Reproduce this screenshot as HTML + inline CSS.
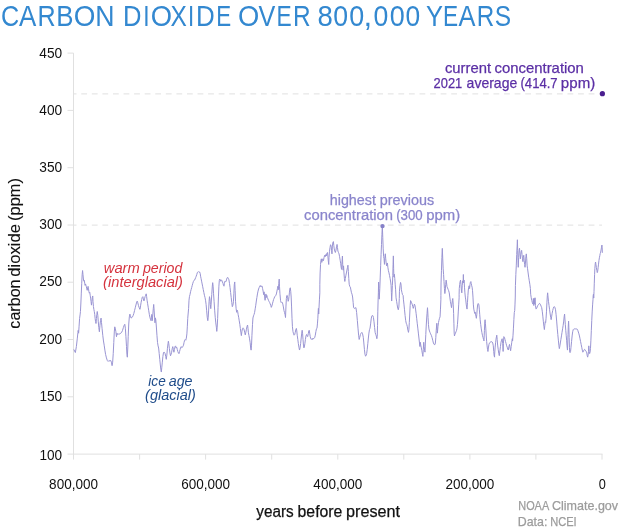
<!DOCTYPE html>
<html><head><meta charset="utf-8"><title>Carbon dioxide over 800,000 years</title>
<style>
html,body{margin:0;padding:0;background:#fff;}
body{width:620px;height:531px;overflow:hidden;font-family:"Liberation Sans",sans-serif;}
svg{display:block;position:absolute;left:0;top:0;will-change:transform;}
text{font-family:"Liberation Sans",sans-serif;}
</style></head><body>
<svg width="620" height="531" viewBox="0 0 620 531">
<rect width="620" height="531" fill="#ffffff"/>
<line x1="73.5" y1="93.9" x2="602.0" y2="93.9" stroke="#e0e0e0" stroke-width="1" stroke-dasharray="5.8 4.77" stroke-dashoffset="2.8"/>
<line x1="73.5" y1="225.1" x2="602.0" y2="225.1" stroke="#e0e0e0" stroke-width="1" stroke-dasharray="5.8 4.77" stroke-dashoffset="2.8"/>
<path d="M73.5,53.1 V459.6 M73.5,454.1 H602.5" fill="none" stroke="#e0e0e0" stroke-width="1"/>
<line x1="67.5" y1="454.1" x2="73.5" y2="454.1" stroke="#e0e0e0" stroke-width="1"/>
<text x="39.42" y="459.5" font-size="14.4" fill="#111" textLength="22.71" lengthAdjust="spacingAndGlyphs">100</text>
<line x1="67.5" y1="396.8" x2="73.5" y2="396.8" stroke="#e0e0e0" stroke-width="1"/>
<text x="39.42" y="401.1" font-size="14.4" fill="#111" textLength="22.71" lengthAdjust="spacingAndGlyphs">150</text>
<line x1="67.5" y1="339.5" x2="73.5" y2="339.5" stroke="#e0e0e0" stroke-width="1"/>
<text x="39.36" y="343.8" font-size="14.4" fill="#111" textLength="22.88" lengthAdjust="spacingAndGlyphs">200</text>
<line x1="67.5" y1="282.2" x2="73.5" y2="282.2" stroke="#e0e0e0" stroke-width="1"/>
<text x="39.36" y="286.1" font-size="14.4" fill="#111" textLength="22.88" lengthAdjust="spacingAndGlyphs">250</text>
<line x1="67.5" y1="225.0" x2="73.5" y2="225.0" stroke="#e0e0e0" stroke-width="1"/>
<text x="39.36" y="229.3" font-size="14.4" fill="#111" textLength="22.88" lengthAdjust="spacingAndGlyphs">300</text>
<line x1="67.5" y1="167.7" x2="73.5" y2="167.7" stroke="#e0e0e0" stroke-width="1"/>
<text x="39.36" y="172.0" font-size="14.4" fill="#111" textLength="22.88" lengthAdjust="spacingAndGlyphs">350</text>
<line x1="67.5" y1="110.4" x2="73.5" y2="110.4" stroke="#e0e0e0" stroke-width="1"/>
<text x="39.36" y="114.7" font-size="14.4" fill="#111" textLength="22.88" lengthAdjust="spacingAndGlyphs">400</text>
<line x1="67.5" y1="53.1" x2="73.5" y2="53.1" stroke="#e0e0e0" stroke-width="1"/>
<text x="39.36" y="57.8" font-size="14.4" fill="#111" textLength="22.88" lengthAdjust="spacingAndGlyphs">450</text>
<line x1="139.6" y1="454.1" x2="139.6" y2="459.6" stroke="#e0e0e0" stroke-width="1"/>
<line x1="205.6" y1="454.1" x2="205.6" y2="459.6" stroke="#e0e0e0" stroke-width="1"/>
<line x1="271.7" y1="454.1" x2="271.7" y2="459.6" stroke="#e0e0e0" stroke-width="1"/>
<line x1="337.8" y1="454.1" x2="337.8" y2="459.6" stroke="#e0e0e0" stroke-width="1"/>
<line x1="403.8" y1="454.1" x2="403.8" y2="459.6" stroke="#e0e0e0" stroke-width="1"/>
<line x1="469.9" y1="454.1" x2="469.9" y2="459.6" stroke="#e0e0e0" stroke-width="1"/>
<line x1="535.9" y1="454.1" x2="535.9" y2="459.6" stroke="#e0e0e0" stroke-width="1"/>
<line x1="602.0" y1="454.1" x2="602.0" y2="459.6" stroke="#e0e0e0" stroke-width="1"/>
<text x="49.12" y="489.2" font-size="14.4" fill="#111" textLength="48.9" lengthAdjust="spacingAndGlyphs">800,000</text>
<text x="181.25" y="489.2" font-size="14.4" fill="#111" textLength="48.9" lengthAdjust="spacingAndGlyphs">600,000</text>
<text x="313.37" y="489.2" font-size="14.4" fill="#111" textLength="48.9" lengthAdjust="spacingAndGlyphs">400,000</text>
<text x="445.50" y="489.2" font-size="14.4" fill="#111" textLength="48.9" lengthAdjust="spacingAndGlyphs">200,000</text>
<text x="598.71" y="489.2" font-size="14.4" fill="#111" textLength="7.09" lengthAdjust="spacingAndGlyphs">0</text>
<path d="M73.81,349.44 L75.37,352.54 L76.36,346.61 L77.34,338.14 L77.91,332.49 L78.19,330.37 L78.62,333.19 L79.04,326.84 L79.6,318.36 L80.17,314.12 L80.45,311.5 L80.88,303.02 L81.3,293.14 L81.72,283.25 L82.15,274.77 L82.57,270.54 L82.99,274.77 L83.42,279.01 L83.84,281.13 L84.27,280.42 L84.69,283.25 L85.11,285.37 L85.54,283.95 L85.96,285.37 L86.38,286.78 L86.81,288.9 L87.23,290.31 L87.66,287.49 L88.08,286.36 L88.5,288.9 L88.93,291.72 L89.35,293.14 L89.77,292.43 L90.2,295.25 L90.62,298.08 L91.05,301.61 L91.47,305.14 L91.89,301.61 L92.32,297.37 L92.74,295.96 L93.02,301.61 L93.45,306.55 L93.87,309.38 L94.29,311.5 L94.72,314.32 L95.14,318.56 L95.56,321.38 L95.99,323.5 L96.41,318.56 L96.84,314.32 L97.26,311.5 L97.82,315.54 L98.25,321.19 L98.81,327.54 L99.38,331.78 L99.94,325.42 L100.51,320.48 L101.07,318.08 L101.5,322.6 L102.06,328.25 L102.77,335.31 L103.47,340.96 L104.18,345.2 L104.89,350.14 L105.59,354.38 L106.44,357.91 L107.29,360.45 L108.14,361.44 L108.98,360.45 L109.83,361.02 L110.68,360.45 L111.38,362.15 L112.09,365.68 L112.66,362.15 L113.22,353.67 L113.79,342.37 L114.35,331.07 L114.77,326.84 L115.34,328.95 L115.9,331.78 L116.47,336.72 L117.03,333.19 L117.74,334.6 L118.45,333.9 L119.15,334.18 L120.0,333.62 L120.85,333.19 L121.69,332.2 L122.54,330.37 L123.39,327.54 L124.24,325.14 L124.8,324.29 L125.37,328.25 L125.93,336.72 L126.5,346.61 L126.92,354.38 L127.34,357.2 L127.77,348.02 L128.19,336.72 L128.76,324.01 L129.32,316.95 L129.89,314.12 L130.45,315.54 L131.02,318.08 L131.72,317.66 L132.43,316.95 L133.14,315.54 L133.84,313.42 L134.55,310.59 L135.25,307.77 L135.96,304.94 L136.67,302.12 L137.23,301.13 L137.8,302.82 L138.5,305.65 L139.21,307.77 L139.77,309.18 L140.0,309.38 L140.56,305.85 L141.13,302.32 L141.69,299.49 L142.26,297.37 L142.82,296.67 L143.39,298.79 L143.95,300.9 L144.52,298.79 L145.08,296.67 L145.65,295.25 L146.21,293.84 L146.64,296.67 L147.06,300.2 L147.63,303.73 L148.19,307.26 L148.76,310.79 L149.32,314.32 L149.89,317.15 L150.45,319.27 L151.02,320.68 L151.44,317.15 L151.86,314.32 L152.29,320.68 L152.85,314.32 L153.28,308.67 L153.7,304.44 L154.12,310.08 L154.55,317.15 L154.97,322.8 L155.4,317.85 L155.82,319.97 L156.38,327.03 L156.95,335.31 L157.51,342.37 L158.08,345.9 L158.64,348.02 L159.21,353.67 L159.77,359.32 L160.34,364.97 L160.9,369.92 L161.33,372.03 L161.75,367.8 L162.32,362.15 L162.88,356.5 L163.45,352.97 L164.01,351.98 L164.58,352.54 L165.14,353.67 L165.71,356.5 L166.27,359.32 L166.84,355.08 L167.4,348.73 L167.97,343.79 L168.39,341.24 L168.81,343.79 L169.38,348.73 L169.94,352.97 L170.51,355.79 L171.07,354.38 L171.64,352.26 L172.2,348.73 L172.77,346.61 L173.33,349.44 L173.9,352.26 L174.46,349.44 L175.03,346.61 L175.59,345.9 L176.16,348.02 L176.72,347.32 L177.29,349.44 L177.85,351.55 L178.42,352.97 L178.98,353.67 L179.55,351.55 L180.11,349.44 L180.68,347.32 L181.24,346.61 L181.81,347.74 L182.37,347.32 L182.94,346.33 L183.5,345.2 L184.07,342.37 L184.63,340.25 L185.2,339.55 L185.76,340.25 L186.33,338.14 L186.89,333.9 L187.32,326.84 L187.74,318.36 L188.59,308.67 L189.01,300.2 L189.44,296.67 L190.0,294.55 L190.56,291.72 L191.13,289.6 L191.69,287.49 L192.26,285.37 L192.82,283.25 L193.39,281.55 L193.95,280.42 L194.52,280.14 L195.08,279.01 L195.65,277.6 L196.21,276.19 L196.78,274.49 L197.34,272.66 L197.91,271.95 L198.47,271.67 L199.04,272.23 L199.6,271.95 L200.17,273.36 L200.59,276.19 L201.02,278.31 L201.58,281.13 L202.15,283.95 L202.71,286.78 L203.28,289.6 L203.84,292.43 L204.41,295.25 L204.97,297.37 L205.54,300.2 L206.1,304.44 L206.67,310.79 L207.23,317.15 L207.8,320.68 L208.22,317.15 L208.64,310.08 L209.07,301.61 L209.49,296.67 L209.92,298.79 L210.34,304.44 L210.76,308.67 L211.19,303.02 L211.75,294.55 L212.32,286.07 L212.68,282.66 L213.11,286.19 L213.53,293.25 L214.1,301.72 L214.66,310.2 L215.23,317.26 L215.79,322.91 L216.36,327.15 L216.78,331.38 L217.2,327.15 L217.63,318.67 L218.05,307.37 L218.47,296.07 L218.9,286.19 L219.32,280.54 L219.75,279.12 L220.17,279.83 L220.73,281.24 L221.3,279.83 L221.86,280.54 L222.43,281.95 L222.99,283.36 L223.56,285.48 L223.98,286.19 L224.41,283.36 L224.97,281.24 L225.54,281.95 L226.1,281.24 L226.67,279.12 L227.23,277.71 L227.8,277.43 L228.36,278.42 L228.93,279.83 L229.49,283.36 L230.06,287.6 L230.62,292.54 L231.19,297.49 L231.75,302.43 L232.32,306.67 L232.88,305.25 L233.45,301.72 L233.87,293.25 L234.29,284.77 L234.72,281.95 L235.14,290.42 L235.56,301.72 L236.13,308.79 L236.69,312.32 L237.26,310.2 L237.68,311.61 L238.11,314.44 L238.67,317.26 L239.24,320.79 L239.8,324.32 L240.37,328.56 L240.93,332.8 L241.36,335.62 L241.92,331.38 L242.49,328.56 L243.05,327.85 L243.62,328.56 L244.18,329.97 L244.75,332.8 L245.31,334.92 L245.88,332.09 L246.44,329.27 L247.01,326.44 L247.57,325.03 L247.99,328.56 L248.42,332.8 L248.98,335.62 L249.55,338.84 L250.11,342.37 L250.68,348.02 L251.1,350.14 L251.53,345.2 L251.95,335.31 L252.51,324.32 L252.94,317.97 L253.5,315.85 L254.07,314.44 L254.63,312.32 L255.2,308.79 L255.76,305.25 L256.33,301.02 L256.89,297.49 L257.46,293.95 L258.02,291.13 L258.59,289.01 L259.15,287.6 L259.72,286.19 L260.28,285.48 L260.85,286.89 L261.41,286.19 L261.98,285.9 L262.54,288.31 L263.11,291.13 L263.67,294.66 L264.1,291.84 L264.52,296.07 L265.08,300.31 L265.51,296.78 L265.93,293.95 L266.36,297.49 L266.78,295.37 L267.34,297.49 L267.91,298.9 L268.47,300.31 L269.04,301.44 L269.6,302.43 L270.17,303.84 L270.73,305.25 L271.3,307.37 L271.86,305.96 L272.43,303.84 L272.99,301.72 L273.56,299.6 L274.12,298.19 L274.69,296.78 L275.25,296.07 L275.82,295.37 L276.38,293.95 L276.95,291.13 L277.51,288.31 L277.94,286.19 L278.36,289.72 L278.79,283.36 L279.21,279.12 L279.49,286.19 L279.92,293.25 L280.0,294.24 L280.56,300.59 L281.13,302.43 L281.69,302.99 L282.26,302.43 L282.82,304.12 L283.39,306.95 L283.95,310.48 L284.52,312.6 L285.08,314.72 L285.51,317.54 L285.93,306.95 L286.36,298.47 L286.78,295.65 L287.2,295.37 L287.63,297.77 L288.19,301.3 L288.62,299.89 L289.04,296.36 L289.46,292.12 L289.89,288.5 L290.31,287.79 L290.73,291.32 L291.16,297.06 L291.58,306.95 L292.01,318.25 L292.43,326.72 L292.99,331.67 L293.56,333.79 L294.12,335.2 L294.69,334.49 L295.25,332.37 L295.82,329.55 L296.38,328.42 L296.81,330.96 L297.23,335.2 L297.8,339.44 L298.36,343.67 L298.93,347.2 L299.49,350.03 L300.06,347.91 L300.62,343.67 L301.19,338.02 L301.75,333.08 L302.18,330.25 L302.6,333.79 L303.02,339.44 L303.45,345.08 L303.87,347.91 L304.29,347.2 L304.86,343.67 L305.42,339.44 L305.99,335.9 L306.55,334.49 L307.12,335.9 L307.68,336.61 L308.25,333.79 L308.81,330.96 L309.24,330.25 L309.66,333.08 L310.23,336.61 L310.79,338.73 L311.36,339.44 L311.92,338.73 L312.49,339.44 L313.05,338.02 L313.62,338.73 L314.18,338.31 L314.75,337.32 L315.31,335.2 L315.88,331.67 L316.44,328.84 L317.01,328.14 L317.43,323.9 L317.85,318.25 L318.14,312.6 L318.42,308.36 L318.7,314.01 L318.98,308.36 L319.41,299.89 L319.83,292.82 L319.83,284.26 L320.11,272.96 L320.54,264.49 L320.96,260.25 L321.38,258.84 L321.81,262.37 L322.23,259.54 L322.66,258.84 L323.08,260.95 L323.5,260.25 L324.07,257.42 L324.63,255.31 L325.2,256.72 L325.76,254.6 L326.33,256.01 L326.89,253.19 L327.46,252.48 L327.88,256.01 L328.31,260.95 L328.73,264.49 L329.01,257.42 L329.44,251.77 L330.0,247.54 L330.56,244.71 L331.13,246.12 L331.55,250.36 L331.98,253.89 L332.4,246.12 L332.82,242.59 L333.39,241.6 L333.81,245.42 L334.24,248.95 L334.8,251.07 L335.37,252.48 L335.93,250.36 L336.5,246.83 L337.06,244.43 L337.49,247.54 L337.91,251.07 L338.47,252.48 L339.04,253.89 L339.6,256.72 L340.17,260.25 L340.73,263.78 L341.16,267.31 L341.58,269.43 L342.01,261.66 L342.43,256.01 L342.71,264.49 L343.14,270.14 L343.56,265.9 L343.98,272.96 L344.41,278.61 L344.83,281.44 L345.25,278.61 L345.82,275.79 L346.38,272.96 L346.95,270.14 L347.51,267.31 L347.94,265.19 L348.36,271.55 L348.79,278.61 L349.21,284.26 L349.77,286.38 L350.34,287.08 L350.9,289.91 L351.47,292.73 L352.03,294.15 L352.6,296.97 L353.16,302.62 L353.59,307.66 L354.15,308.36 L355.0,308.08 L355.93,307.66 L356.64,312.6 L357.34,320.37 L358.05,328.84 L358.62,335.2 L359.18,339.44 L359.75,337.32 L360.45,334.49 L361.16,333.08 L361.86,332.37 L362.57,333.79 L363.28,337.32 L363.84,342.97 L364.41,349.32 L364.97,354.27 L365.54,356.1 L366.1,355.68 L366.67,353.56 L367.23,349.32 L367.8,343.67 L368.36,338.02 L368.93,333.08 L369.49,329.55 L370.06,328.14 L370.62,323.9 L371.19,318.95 L371.75,316.13 L372.32,315.42 L372.88,315.71 L373.45,317.54 L374.01,321.78 L374.58,327.43 L375.14,332.37 L375.71,334.49 L376.27,335.9 L376.84,338.73 L377.26,336.61 L377.54,325.31 L377.82,311.19 L378.11,299.89 L378.39,292.82 L378.6,282.03 L379.24,299.18 L379.8,288.38 L380.23,277.08 L380.65,265.79 L381.07,254.49 L381.5,244.6 L381.92,234.71 L382.34,225.95 L382.77,237.54 L383.19,248.84 L383.62,256.6 L384.04,258.72 L384.46,264.37 L384.89,257.31 L385.31,253.78 L385.73,258.72 L386.16,262.96 L386.58,265.79 L387.01,263.67 L387.43,262.96 L387.85,267.2 L388.42,270.73 L388.98,272.85 L389.55,275.67 L390.11,278.5 L390.68,282.03 L391.1,285.56 L391.38,292.62 L391.67,301.02 L392.37,285.56 L392.8,275.67 L393.08,264.37 L393.36,255.9 L393.64,268.61 L393.93,277.08 L394.35,274.26 L394.77,278.5 L395.2,284.15 L395.62,289.8 L396.05,297.77 L396.61,301.3 L397.18,304.83 L397.74,308.36 L398.31,309.77 L398.87,306.95 L399.29,298.47 L399.44,291.21 L400.0,285.56 L400.56,282.45 L400.99,284.15 L401.41,289.8 L401.98,292.62 L402.54,294.74 L403.11,295.45 L403.39,299.18 L403.95,304.12 L404.52,309.77 L405.08,315.42 L405.65,320.37 L406.21,323.19 L406.78,324.6 L407.34,326.72 L407.91,330.25 L408.47,332.37 L408.9,329.55 L409.32,322.49 L409.75,314.01 L410.17,305.54 L410.59,300.59 L411.02,301.3 L411.58,302.71 L412.15,304.12 L412.71,306.24 L413.28,308.36 L413.84,306.24 L414.41,304.12 L414.97,305.54 L415.54,309.07 L416.1,313.31 L416.67,318.25 L417.23,323.19 L417.8,328.14 L418.36,333.08 L418.93,338.02 L419.49,342.97 L419.92,346.5 L420.34,342.26 L420.76,345.08 L421.33,347.91 L421.89,350.73 L422.46,354.27 L422.88,356.38 L423.31,349.32 L423.73,342.26 L424.15,346.5 L424.58,350.73 L425.0,352.15 L425.37,343.02 L425.79,334.55 L426.21,326.07 L426.64,319.01 L427.06,313.36 L427.49,307.71 L427.77,311.95 L428.05,317.6 L428.47,324.66 L428.9,328.9 L429.46,331.02 L430.03,332.43 L430.59,333.84 L431.3,335.25 L432.01,337.37 L432.71,340.2 L433.42,343.02 L434.12,344.44 L434.83,344.72 L435.4,343.02 L435.82,337.37 L436.24,330.31 L436.81,323.25 L437.37,333.14 L437.94,326.78 L438.5,322.54 L438.93,320.42 L439.49,318.31 L440.06,316.89 L440.48,309.12 L440.9,299.24 L440.9,295.67 L441.05,282.96 L441.47,270.25 L441.89,257.54 L442.32,248.36 L442.74,258.95 L443.16,268.84 L443.59,274.49 L444.01,281.55 L444.44,288.61 L444.86,293.55 L445.28,290.02 L445.71,284.37 L446.13,280.14 L446.55,282.96 L446.98,286.49 L447.54,287.9 L448.11,289.32 L448.67,290.73 L449.24,292.85 L449.8,297.08 L450.37,301.32 L450.93,304.15 L451.5,307.68 L451.92,304.15 L452.34,300.62 L452.77,298.5 L453.19,304.15 L453.62,313.36 L453.9,323.25 L454.18,333.14 L454.46,335.96 L454.89,334.55 L455.45,333.14 L456.02,331.72 L456.58,330.31 L457.01,328.19 L457.43,324.66 L457.85,319.01 L458.28,311.95 L458.7,304.89 L459.12,297.82 L459.12,294.26 L459.27,288.61 L459.69,284.37 L460.11,281.55 L460.54,280.14 L460.96,284.37 L461.38,290.02 L461.81,292.85 L462.23,285.79 L462.66,280.84 L463.08,282.96 L463.36,274.49 L463.64,282.96 L464.07,280.14 L464.49,287.2 L464.92,292.85 L465.34,297.08 L465.76,299.91 L466.19,304.15 L466.61,306.97 L467.03,309.09 L467.46,302.73 L467.88,295.67 L468.31,290.02 L468.73,287.2 L469.15,285.79 L469.58,288.61 L470.0,284.37 L470.42,282.25 L470.85,281.55 L471.27,283.67 L471.69,285.79 L472.12,287.2 L472.54,290.73 L472.97,297.08 L473.39,304.89 L473.81,309.12 L474.24,311.24 L474.66,313.36 L475.08,311.95 L475.51,314.07 L475.93,316.19 L476.36,318.31 L476.78,314.77 L477.2,309.12 L477.63,304.89 L478.05,303.47 L478.47,303.76 L478.9,304.89 L479.32,309.12 L479.75,314.77 L480.17,319.72 L480.73,324.66 L481.3,328.9 L481.86,332.43 L482.43,335.25 L482.99,337.37 L483.56,339.49 L483.98,340.9 L484.41,330.31 L484.83,321.13 L485.11,319.72 L485.4,323.25 L485.82,328.9 L486.24,335.96 L486.67,341.61 L487.09,345.85 L487.51,349.38 L487.94,351.5 L488.36,347.97 L488.93,344.44 L489.49,343.02 L490.06,342.32 L490.62,341.89 L491.33,341.61 L492.03,341.89 L492.74,343.02 L493.31,345.85 L493.73,351.5 L494.15,355.73 L494.58,357.15 L494.58,354.97 L495.08,347.91 L495.65,342.26 L496.21,338.02 L496.78,335.2 L497.2,339.44 L497.63,345.08 L498.19,349.32 L498.76,353.56 L499.32,355.68 L499.89,350.73 L500.45,346.5 L501.02,342.26 L501.58,340.14 L502.15,338.73 L502.71,343.67 L503.14,351.44 L503.42,343.67 L503.84,336.61 L504.41,337.32 L504.97,339.44 L505.54,341.55 L506.1,343.67 L506.67,345.79 L507.23,347.2 L507.8,349.32 L508.36,350.03 L508.93,346.5 L509.49,344.38 L510.06,347.91 L510.62,350.73 L511.19,346.5 L511.75,342.26 L512.32,338.73 L512.6,340.85 L513.02,335.2 L513.45,328.14 L513.87,319.66 L514.29,312.6 L514.72,310.48 L515.0,304.12 L515.28,297.06 L515.42,285.67 L515.85,274.37 L516.27,265.9 L516.69,254.6 L517.12,246.12 L517.4,239.77 L517.68,250.36 L517.97,260.25 L518.25,267.31 L518.67,257.42 L519.1,250.36 L519.52,248.24 L519.94,253.19 L520.37,258.84 L520.79,254.6 L521.21,251.77 L521.64,250.36 L522.06,254.6 L522.49,258.84 L522.91,261.66 L523.33,257.42 L523.76,255.31 L524.18,260.25 L524.6,264.49 L525.03,267.31 L525.45,263.07 L525.88,256.72 L526.3,253.89 L526.72,258.84 L527.15,265.9 L527.57,268.72 L528.14,272.96 L528.7,277.2 L529.27,280.73 L529.83,284.26 L530.4,288.5 L530.68,294.24 L531.24,297.77 L531.81,300.59 L532.37,302.71 L532.94,304.12 L533.36,298.47 L533.79,305.54 L534.21,298.47 L534.63,304.12 L535.06,297.77 L535.48,305.54 L536.05,309.07 L536.61,308.36 L537.18,306.95 L537.74,305.54 L538.31,304.83 L538.87,304.12 L539.44,303.42 L540.0,303.7 L540.56,304.83 L541.13,306.24 L541.69,307.66 L542.26,311.19 L542.82,316.13 L543.39,321.78 L543.95,326.72 L544.38,329.55 L544.8,325.31 L545.23,321.78 L545.65,322.49 L546.07,318.25 L546.5,311.19 L546.92,302.71 L547.34,295.65 L547.63,292.82 L548.05,297.06 L548.47,301.3 L549.04,305.54 L549.6,309.77 L550.17,314.01 L550.73,317.54 L551.16,319.66 L551.58,316.84 L552.15,313.31 L552.71,310.48 L553.28,308.36 L553.84,306.95 L554.41,306.67 L554.97,307.66 L555.54,309.77 L556.1,314.72 L556.67,321.07 L557.23,328.14 L557.8,334.49 L558.36,340.14 L558.93,345.79 L559.35,348.62 L559.77,346.5 L560.34,342.97 L560.9,339.44 L561.47,335.9 L562.03,332.37 L562.6,328.84 L563.16,325.31 L563.73,321.07 L564.15,316.84 L564.58,314.01 L564.92,319.01 L565.34,324.66 L565.76,330.31 L566.19,335.25 L566.61,340.2 L567.03,345.85 L567.46,350.08 L567.74,343.02 L568.02,334.55 L568.31,326.07 L568.59,321.13 L568.87,327.49 L569.15,337.37 L569.44,347.26 L569.72,352.2 L570.14,352.63 L570.56,351.5 L570.99,347.26 L571.55,341.61 L572.12,335.96 L572.68,331.72 L573.25,329.6 L573.95,328.9 L574.66,328.9 L575.51,328.9 L576.36,328.9 L577.2,329.18 L577.77,330.31 L578.33,332.01 L578.9,333.84 L579.46,335.96 L580.03,338.79 L580.59,341.61 L581.16,344.44 L581.72,347.26 L582.29,350.08 L582.85,352.2 L583.42,351.5 L583.98,350.08 L584.55,349.38 L585.11,349.8 L585.68,350.79 L586.24,351.5 L586.81,352.91 L587.23,355.73 L587.66,357.15 L588.08,355.03 L588.5,351.5 L588.79,345.85 L589.21,351.5 L589.63,353.62 L590.06,352.2 L590.48,348.67 L590.9,340.2 L591.33,330.31 L591.75,320.42 L592.18,311.95 L592.6,304.89 L593.02,299.24 L593.16,295.91 L593.45,294.21 L593.73,298.03 L594.01,291.67 L594.29,283.2 L594.58,274.72 L594.86,268.37 L595.28,263.42 L595.56,262.01 L595.99,264.84 L596.41,267.66 L596.84,270.49 L597.26,272.6 L597.68,271.19 L598.11,267.66 L598.53,264.13 L598.95,260.6 L599.38,257.77 L599.8,255.66 L600.23,253.54 L600.65,252.12 L601.07,250.01 L601.5,247.18 L601.92,245.06 L602.2,247.89 L602.34,252.83" fill="none" stroke="#9a95d3" stroke-width="1" stroke-linejoin="round"/>
<circle cx="382.5" cy="226.1" r="2.2" fill="#8580c8"/>
<circle cx="602.4" cy="93.7" r="2.6" fill="#4a1e8f"/>
<text x="1.09" y="25.8" font-size="29.6" fill="#3388d0" textLength="18.18" lengthAdjust="spacingAndGlyphs">C</text>
<text x="18.92" y="25.8" font-size="29.6" fill="#3388d0" textLength="17.31" lengthAdjust="spacingAndGlyphs">A</text>
<text x="37.41" y="25.8" font-size="29.6" fill="#3388d0" textLength="18.14" lengthAdjust="spacingAndGlyphs">R</text>
<text x="56.17" y="25.8" font-size="29.6" fill="#3388d0" textLength="17.26" lengthAdjust="spacingAndGlyphs">B</text>
<text x="73.77" y="25.8" font-size="29.6" fill="#3388d0" textLength="21.66" lengthAdjust="spacingAndGlyphs">O</text>
<text x="95.36" y="25.8" font-size="29.6" fill="#3388d0" textLength="19.29" lengthAdjust="spacingAndGlyphs">N</text>
<text x="122.97" y="25.8" font-size="29.6" fill="#3388d0" textLength="18.48" lengthAdjust="spacingAndGlyphs">D</text>
<text x="143.15" y="25.8" font-size="29.6" fill="#3388d0" textLength="6.31" lengthAdjust="spacingAndGlyphs">I</text>
<text x="150.66" y="25.8" font-size="29.6" fill="#3388d0" textLength="21.29" lengthAdjust="spacingAndGlyphs">O</text>
<text x="170.6" y="25.8" font-size="29.6" fill="#3388d0" textLength="16.36" lengthAdjust="spacingAndGlyphs">X</text>
<text x="187.96" y="25.8" font-size="29.6" fill="#3388d0" textLength="6.22" lengthAdjust="spacingAndGlyphs">I</text>
<text x="195.89" y="25.8" font-size="29.6" fill="#3388d0" textLength="18.73" lengthAdjust="spacingAndGlyphs">D</text>
<text x="216.23" y="25.8" font-size="29.6" fill="#3388d0" textLength="14.92" lengthAdjust="spacingAndGlyphs">E</text>
<text x="238.08" y="25.8" font-size="29.6" fill="#3388d0" textLength="21.28" lengthAdjust="spacingAndGlyphs">O</text>
<text x="258.44" y="25.8" font-size="29.6" fill="#3388d0" textLength="16.81" lengthAdjust="spacingAndGlyphs">V</text>
<text x="276.38" y="25.8" font-size="29.6" fill="#3388d0" textLength="15.17" lengthAdjust="spacingAndGlyphs">E</text>
<text x="292.99" y="25.8" font-size="29.6" fill="#3388d0" textLength="17.61" lengthAdjust="spacingAndGlyphs">R</text>
<text x="317.56" y="25.8" font-size="29.6" fill="#3388d0" textLength="15.31" lengthAdjust="spacingAndGlyphs">8</text>
<text x="333.32" y="25.8" font-size="29.6" fill="#3388d0" textLength="14.85" lengthAdjust="spacingAndGlyphs">0</text>
<text x="349.35" y="25.8" font-size="29.6" fill="#3388d0" textLength="14.97" lengthAdjust="spacingAndGlyphs">0</text>
<text x="363.62" y="25.8" font-size="29.6" fill="#3388d0" textLength="8.68" lengthAdjust="spacingAndGlyphs">,</text>
<text x="373.57" y="25.8" font-size="29.6" fill="#3388d0" textLength="14.83" lengthAdjust="spacingAndGlyphs">0</text>
<text x="389.63" y="25.8" font-size="29.6" fill="#3388d0" textLength="15.0" lengthAdjust="spacingAndGlyphs">0</text>
<text x="405.5" y="25.8" font-size="29.6" fill="#3388d0" textLength="14.7" lengthAdjust="spacingAndGlyphs">0</text>
<text x="425.96" y="25.8" font-size="29.6" fill="#3388d0" textLength="17.01" lengthAdjust="spacingAndGlyphs">Y</text>
<text x="442.93" y="25.8" font-size="29.6" fill="#3388d0" textLength="15.13" lengthAdjust="spacingAndGlyphs">E</text>
<text x="458.62" y="25.8" font-size="29.6" fill="#3388d0" textLength="16.97" lengthAdjust="spacingAndGlyphs">A</text>
<text x="476.86" y="25.8" font-size="29.6" fill="#3388d0" textLength="17.5" lengthAdjust="spacingAndGlyphs">R</text>
<text x="494.83" y="25.8" font-size="29.6" fill="#3388d0" textLength="16.35" lengthAdjust="spacingAndGlyphs">S</text>
<text x="444.93" y="72.9" font-size="14.2" stroke="#5b2fa5" stroke-width="0.25" fill="#5b2fa5" textLength="46.11" lengthAdjust="spacingAndGlyphs">current</text>
<text x="494.51" y="72.9" font-size="14.2" stroke="#5b2fa5" stroke-width="0.25" fill="#5b2fa5" textLength="89.39" lengthAdjust="spacingAndGlyphs">concentration</text>
<text x="433.6" y="87.6" font-size="14.2" stroke="#5b2fa5" stroke-width="0.25" fill="#5b2fa5" textLength="28.66" lengthAdjust="spacingAndGlyphs">2021</text>
<text x="466.59" y="87.6" font-size="14.2" stroke="#5b2fa5" stroke-width="0.25" fill="#5b2fa5" textLength="50.68" lengthAdjust="spacingAndGlyphs">average</text>
<text x="520.5" y="87.6" font-size="14.2" stroke="#5b2fa5" stroke-width="0.25" fill="#5b2fa5" textLength="37.13" lengthAdjust="spacingAndGlyphs">(414.7</text>
<text x="560.89" y="87.6" font-size="14.2" stroke="#5b2fa5" stroke-width="0.25" fill="#5b2fa5" textLength="34.33" lengthAdjust="spacingAndGlyphs">ppm)</text>
<text x="329.79" y="204.9" font-size="14.2" stroke="#8a85cc" stroke-width="0.25" fill="#8a85cc" textLength="46.08" lengthAdjust="spacingAndGlyphs">highest</text>
<text x="379.74" y="204.9" font-size="14.2" stroke="#8a85cc" stroke-width="0.25" fill="#8a85cc" textLength="54.44" lengthAdjust="spacingAndGlyphs">previous</text>
<text x="304.07" y="219.6" font-size="14.2" stroke="#8a85cc" stroke-width="0.25" fill="#8a85cc" textLength="88.97" lengthAdjust="spacingAndGlyphs">concentration</text>
<text x="396.21" y="219.6" font-size="14.2" stroke="#8a85cc" stroke-width="0.25" fill="#8a85cc" textLength="26.54" lengthAdjust="spacingAndGlyphs">(300</text>
<text x="426.21" y="219.6" font-size="14.2" stroke="#8a85cc" stroke-width="0.25" fill="#8a85cc" textLength="33.92" lengthAdjust="spacingAndGlyphs">ppm)</text>
<text x="103.76" y="272.8" font-size="14.4" font-style="italic" fill="#d5333e" textLength="36.02" lengthAdjust="spacingAndGlyphs">warm</text>
<text x="142.9" y="272.8" font-size="14.4" font-style="italic" fill="#d5333e" textLength="39.48" lengthAdjust="spacingAndGlyphs">period</text>
<text x="103.14" y="286.9" font-size="14.4" font-style="italic" fill="#d5333e" textLength="79.82" lengthAdjust="spacingAndGlyphs">(interglacial)</text>
<text x="148.35" y="386.3" font-size="14.4" font-style="italic" fill="#1f4c8a" textLength="17.43" lengthAdjust="spacingAndGlyphs">ice</text>
<text x="168.69" y="386.3" font-size="14.4" font-style="italic" fill="#1f4c8a" textLength="23.85" lengthAdjust="spacingAndGlyphs">age</text>
<text x="145.1" y="400.4" font-size="14.4" font-style="italic" fill="#1f4c8a" textLength="50.66" lengthAdjust="spacingAndGlyphs">(glacial)</text>
<text x="256.27" y="516.7" font-size="16.0" stroke="#111" stroke-width="0.25" fill="#111" textLength="37.38" lengthAdjust="spacingAndGlyphs">years</text>
<text x="297.59" y="516.7" font-size="16.0" stroke="#111" stroke-width="0.25" fill="#111" textLength="44.75" lengthAdjust="spacingAndGlyphs">before</text>
<text x="346.03" y="516.7" font-size="16.0" stroke="#111" stroke-width="0.25" fill="#111" textLength="53.97" lengthAdjust="spacingAndGlyphs">present</text>
<text x="518.25" y="510.3" font-size="12.8" stroke="#9c9c9c" stroke-width="0.25" fill="#9c9c9c" textLength="30.93" lengthAdjust="spacingAndGlyphs">NOAA</text>
<text x="551.99" y="510.3" font-size="12.8" stroke="#9c9c9c" stroke-width="0.25" fill="#9c9c9c" textLength="66.08" lengthAdjust="spacingAndGlyphs">Climate.gov</text>
<text x="517.8" y="526.3" font-size="12.8" stroke="#9c9c9c" stroke-width="0.25" fill="#9c9c9c" textLength="29.6" lengthAdjust="spacingAndGlyphs">Data:</text>
<text x="550.19" y="526.3" font-size="12.8" stroke="#9c9c9c" stroke-width="0.25" fill="#9c9c9c" textLength="26.49" lengthAdjust="spacingAndGlyphs">NCEI</text>
<g transform="translate(20.2,328.0) rotate(-90)">
<text x="-0.66" y="0" font-size="15.8" fill="#111" stroke="#111" stroke-width="0.1" textLength="49.18" lengthAdjust="spacingAndGlyphs">carbon</text>
<text x="51.32" y="0" font-size="15.8" fill="#111" stroke="#111" stroke-width="0.1" textLength="52.78" lengthAdjust="spacingAndGlyphs">dioxide</text>
<text x="107.09" y="0" font-size="15.8" fill="#111" stroke="#111" stroke-width="0.1" textLength="42.77" lengthAdjust="spacingAndGlyphs">(ppm)</text>
</g>
</svg>
</body></html>
